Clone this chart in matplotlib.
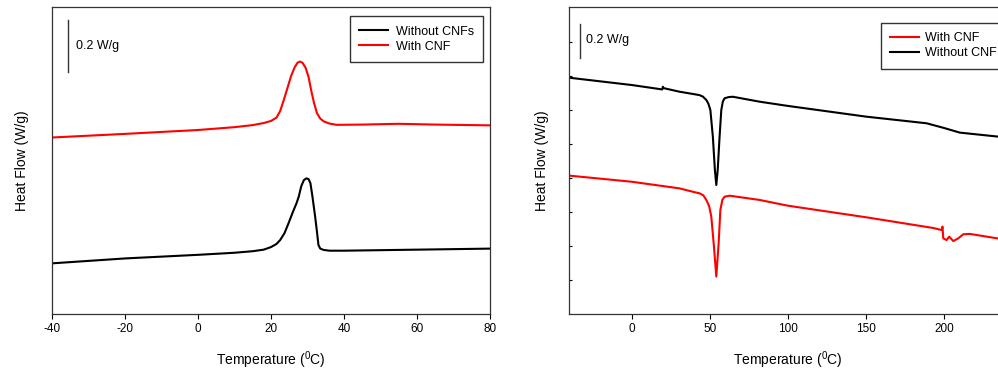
import matplotlib
matplotlib.use("Agg")
import matplotlib.pyplot as plt
from matplotlib import rcParams

rcParams['font.family'] = ['Liberation Sans', 'DejaVu Sans']
rcParams['mathtext.fontset'] = 'custom'
rcParams['mathtext.rm'] = 'Liberation Sans'
rcParams['axes.unicode_minus'] = False

# ---- left panel: cooling curves (W/g, arbitrary offset) ----
T_left_red = [-40, -20, 0, 10, 15, 18, 20, 21.5, 22.5, 23.5, 24.5, 25.5, 26.5, 27.3, 28,
              28.7, 29.5, 30.3, 31, 31.8, 32.6, 33.5, 34.5, 36, 38, 45, 55, 65, 80]
hf_left_red = [0.683, 0.697, 0.712, 0.723, 0.731, 0.739, 0.747, 0.760, 0.785, 0.828, 0.874,
               0.921, 0.955, 0.973, 0.977, 0.971, 0.952, 0.917, 0.866, 0.816, 0.777, 0.756,
               0.745, 0.737, 0.732, 0.733, 0.736, 0.733, 0.730]

T_left_black = [-40, -20, 0, 10, 15, 18, 20, 21.5, 22.5, 23.7, 24.8, 26, 27, 27.6, 28.3, 29,
                29.7, 30.3, 30.8, 31.3, 32.1, 32.6, 33, 33.5, 34.4, 36, 40, 60, 80]
hf_left_black = [0.196, 0.215, 0.229, 0.237, 0.243, 0.249, 0.259, 0.271, 0.286, 0.313, 0.351,
                 0.395, 0.429, 0.454, 0.495, 0.518, 0.525, 0.522, 0.506, 0.460, 0.376, 0.317,
                 0.267, 0.253, 0.248, 0.245, 0.245, 0.249, 0.253]

# ---- right panel: heating curves ----
T_right_black = [-40, 0, 19.5, 19.9, 20.3, 30.4, 40, 43.2, 45.5, 47.7, 49, 50.3, 51.9, 53.2,
                 54.1, 55, 56.2, 57.3, 58.3, 59.4, 62, 64.7, 81.8, 100, 150, 188.7, 200, 210,
                 235, 250]
hf_right_black = [1.390, 1.347, 1.321, 1.337, 1.329, 1.308, 1.293, 1.288, 1.279, 1.259, 1.238,
                  1.200, 1.043, 0.847, 0.759, 0.847, 1.043, 1.200, 1.250, 1.269, 1.276, 1.278,
                  1.249, 1.224, 1.161, 1.122, 1.094, 1.067, 1.043, 1.029]

T_right_red = [-40, 0, 30.6, 40, 43.4, 45.8, 47.7, 49.5, 50.9, 52.6, 54.1, 55.6, 56.7, 58,
               59.4, 62.6, 81.8, 100, 150, 193, 198.3, 198.9, 199.4, 201.5, 203.2, 205.8, 209,
               212.2, 216.5, 234, 250]
hf_right_red = [0.814, 0.778, 0.739, 0.717, 0.710, 0.698, 0.671, 0.635, 0.573, 0.396, 0.220,
                0.416, 0.612, 0.672, 0.690, 0.696, 0.671, 0.637, 0.569, 0.506, 0.494, 0.514,
                0.445, 0.435, 0.455, 0.429, 0.445, 0.469, 0.471, 0.445, 0.429]

scale_bar = 0.2  # W/g

fig = plt.figure(figsize=(9.98, 3.70), dpi=100)
W, H = 998., 370.

# left axes
ax1 = fig.add_axes([52/W, 56/H, 438/W, 307/H])
ax1.plot(T_left_black, hf_left_black, color='black', lw=1.5, label='Without CNFs')
ax1.plot(T_left_red, hf_left_red, color='#ff0000', lw=1.5, label='With CNF')
ax1.set_xlim(-40, 80)
ax1.set_ylim(0, 1.188)
ax1.set_xticks([-40, -20, 0, 20, 40, 60, 80])
ax1.set_yticks([])
ax1.plot([-35.6, -35.6], [1.137 - scale_bar, 1.137], color='#333333', lw=1)
ax1.text(-33.3, 1.038, '0.2 W/g', fontsize=9, va='center', ha='left')
ax1.legend(loc='upper right', bbox_to_anchor=(483/W, 1 - 16.3/H), bbox_transform=fig.transFigure,
           borderaxespad=0, fontsize=9, frameon=True, fancybox=False, edgecolor='black',
           handlelength=2.3, handletextpad=0.6, labelspacing=0.25, borderpad=0.75)

# right axes (figure cropped at the right edge)
ax2 = fig.add_axes([569.3/W, 56/H, 437.4/W, 307/H])
ax2.plot(T_right_red, hf_right_red, color='#ff0000', lw=1.5, label='With CNF')
ax2.plot(T_right_black, hf_right_black, color='black', lw=1.5, label='Without CNF')
ax2.set_xlim(-40, 240)
ax2.set_ylim(0, 1.806)
ax2.set_xticks([0, 50, 100, 150, 200])
ax2.set_yticks([0.2, 0.4, 0.6, 0.8, 1.0, 1.2, 1.4, 1.6])
ax2.tick_params(axis='y', direction='in', length=2.5, labelleft=False)
ax2.plot([-33.1, -33.1], [1.706 - scale_bar, 1.706], color='#333333', lw=1)
ax2.text(-29.2, 1.612, '0.2 W/g', fontsize=9, va='center', ha='left')
ax2.legend(loc='upper left', bbox_to_anchor=(881/W, 1 - 22.7/H), bbox_transform=fig.transFigure,
           borderaxespad=0, fontsize=9, frameon=True, fancybox=False, edgecolor='black',
           handlelength=2.3, handletextpad=0.5, labelspacing=0.25, borderpad=0.75)

for ax, ylx in ((ax1, -0.0525), (ax2, -0.047)):
    ax.tick_params(axis='x', direction='out', length=3.5, labelsize=8.5, pad=3)
    for sp in ax.spines.values():
        sp.set_linewidth(0.9)
        sp.set_color('#333333')
    ax.set_xlabel(r'Temperature ($\mathregular{^{0}}$C)', fontsize=10)
    ax.set_ylabel('Heat Flow (W/g)', fontsize=10)
    ax.xaxis.set_label_coords(0.5, -0.115)
    ax.yaxis.set_label_coords(ylx, 0.5)

fig.savefig('out.png', dpi=100)
